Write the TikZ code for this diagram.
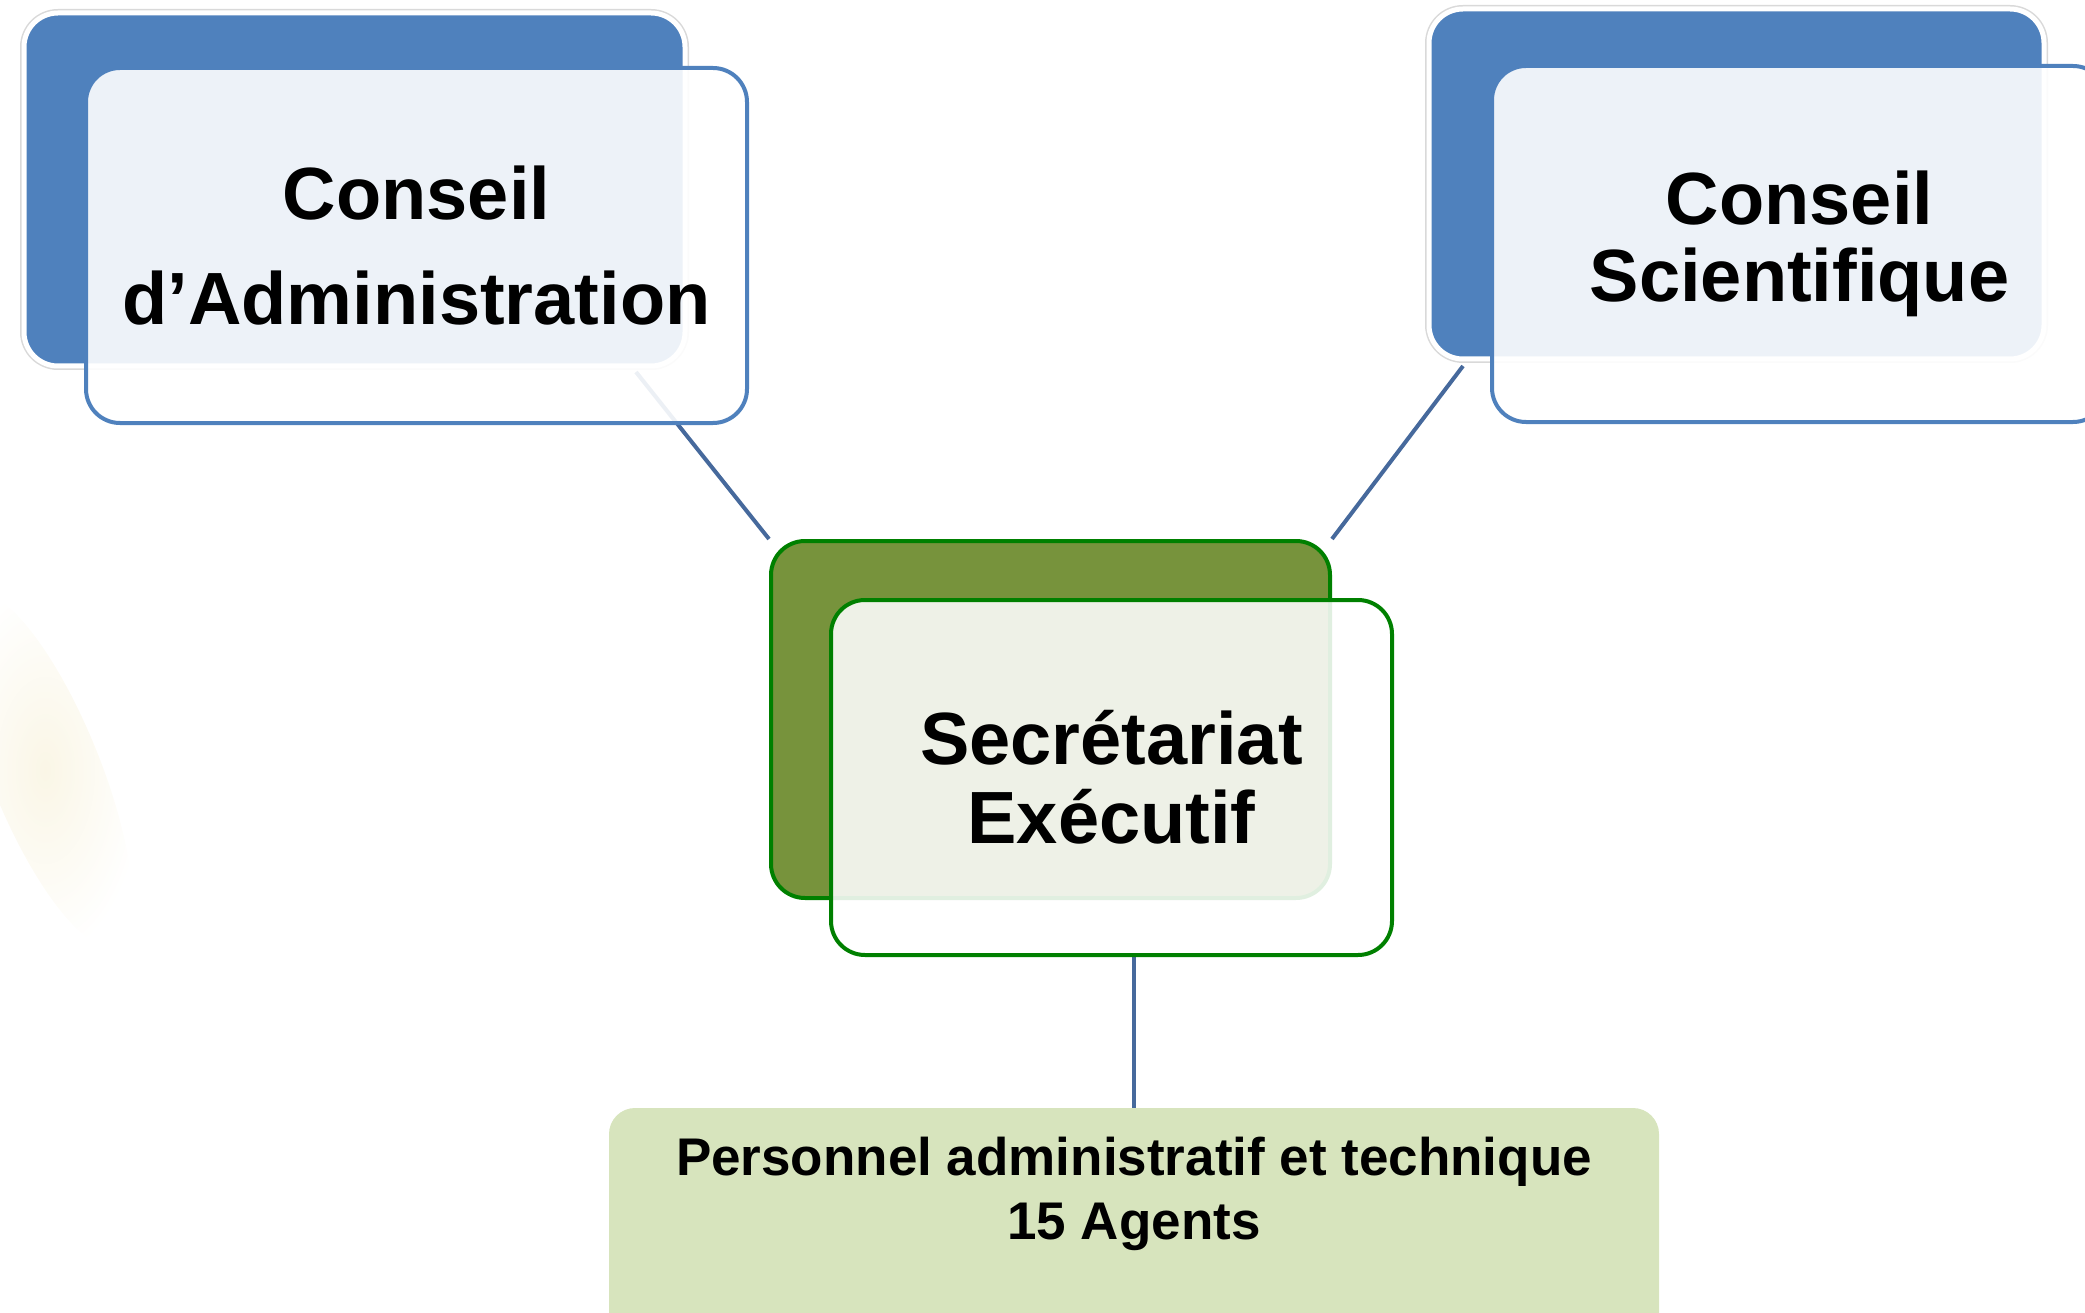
\documentclass[tikz,border=0pt]{standalone}
\usepackage{fontspec}
\setmainfont{Liberation Sans}
\usetikzlibrary{backgrounds}
\definecolor{bdark}{HTML}{4F81BD}
\definecolor{gdark}{HTML}{77933C}
\definecolor{gline}{HTML}{008000}
\definecolor{pafill}{HTML}{D7E4BD}
\definecolor{conn}{HTML}{46699C}
\definecolor{smear}{HTML}{FAF6E6}
\begin{document}
\begin{tikzpicture}[x=1pt,y=-1pt,
  box/.style={rectangle, rounded corners=34pt, inner sep=0pt, align=center},
  bluebackbox/.style={box, fill=bdark, draw=white, line width=5pt,
     preaction={draw=black!15, line width=8pt}},
  bluefrontbox/.style={box, fill=white, fill opacity=0.9, text opacity=1, draw=bdark, line width=4pt},
  greenbackbox/.style={box, fill=gdark, draw=gline, line width=4pt},
  greenfrontbox/.style={box, fill=white, fill opacity=0.88, text opacity=1, draw=gline, line width=4pt},
  pabox/.style={rectangle, rounded corners=26pt, fill=pafill, inner sep=0pt},
  connector/.style={draw=conn, line width=4pt}
]
\useasboundingbox (0,0) rectangle (2085,1313);

% Conseil d'Administration
\node (CAback) [bluebackbox, minimum width=661pt, minimum height=353pt] at (354.5,189.5) {};
\node (CAfront) [bluefrontbox, minimum width=661pt, minimum height=355pt,
  font=\fontsize{74}{105}\selectfont\bfseries] at (416.5,245.5) {Conseil\\d’Administration};

% Conseil Scientifique
\node (CSback) [bluebackbox, minimum width=615pt, minimum height=350pt] at (1736.5,184) {};
\node (CSfront) [bluefrontbox, minimum width=615pt, minimum height=356pt,
  font=\fontsize{74}{77}\selectfont\bfseries] at (1799.5,244) {Conseil\\Scientifique};

% Secretariat Executif
\node (SEback) [greenbackbox, minimum width=559pt, minimum height=357pt] at (1050.5,719.5) {};
\node (SEfront) [greenfrontbox, minimum width=561pt, minimum height=355pt,
  font=\fontsize{74}{79}\selectfont\bfseries] at (1111.5,777.5) {Secrétariat\\Exécutif};

% Personnel
\node (PA) [pabox, minimum width=1050pt, minimum height=292pt] at (1134,1254) {};
\node (PAtext) [align=center, inner sep=0pt, font=\fontsize{53}{64}\selectfont\bfseries]
  at (1134,1194) {Personnel administratif et technique\\15 Agents};

\coordinate (la) at (636,372);
\coordinate (ra) at (1463,366);

\begin{pgfonlayer}{background}
  \shade[inner color=smear, outer color=white, rotate around={22:(45,770)}]
    (45,770) ellipse [x radius=55pt, y radius=190pt];
  \draw[connector] (la) -- (SEback.north west);
  \draw[connector] (ra) -- (SEback.north east);
  \draw[connector] (PA.north |- SEfront.south) -- (PA.north);
\end{pgfonlayer}
\end{tikzpicture}
\end{document}
